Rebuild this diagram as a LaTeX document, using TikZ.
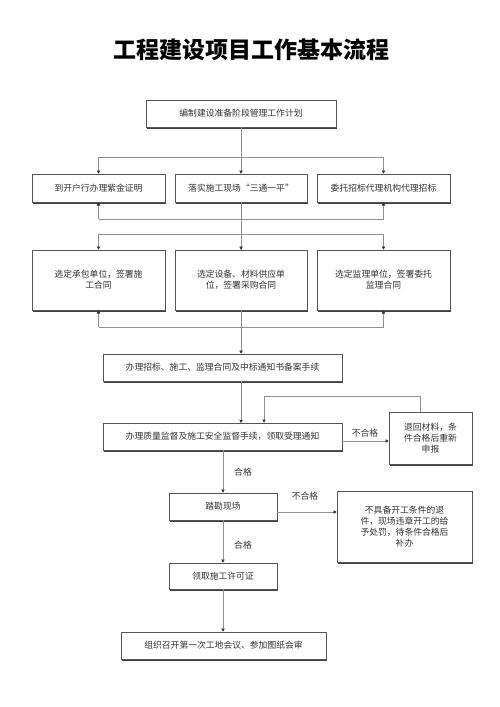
\documentclass[tikz,border=0pt]{standalone}
\usepackage{fontspec}
\setmainfont{Noto Sans CJK SC}
\usetikzlibrary{arrows.meta,shadows}
\definecolor{txt}{HTML}{333333}
\definecolor{ln}{HTML}{8F8F8F}
\definecolor{bd}{HTML}{555555}
\tikzset{
  box/.style={draw=bd,line width=0.6pt,fill=white,inner sep=0pt,align=center,
    text=txt,font=\fontsize{8.8}{11}\selectfont,
    general shadow={fill=black!75,shadow xshift=1.3pt,shadow yshift=-1.5pt}},
  conn/.style={draw=ln,line width=0.7pt},
  arr/.style={conn,-{Triangle[length=3.2pt,width=3.4pt,color=black!80]}},
  lbl/.style={text=txt,font=\fontsize{8.8}{11}\selectfont,inner sep=0pt}
}
\begin{document}
\begin{tikzpicture}[x=1pt,y=-1pt]
\useasboundingbox (0,0) rectangle (500,707);
\fill[white] (0,0) rectangle (500,707);
\node[text=black,font=\fontsize{23}{26}\selectfont\bfseries] (title) at (251,50) {工程建设项目工作基本流程};

\node[box,minimum width=190pt,minimum height=27pt] (top) at (241,113.5) {编制建设准备阶段管理工作计划};

\node[box,minimum width=133pt,minimum height=28pt] (r1a) at (98.5,188) {到开户行办理紫金证明};
\node[box,minimum width=132pt,minimum height=28pt] (r1b) at (241,188) {落实施工现场“三通一平”};
\node[box,minimum width=133pt,minimum height=28pt] (r1c) at (383.5,188) {委托招标代理机构代理招标};

\node[box,minimum width=133pt,minimum height=60pt] (r2a) at (98.5,280) {选定承包单位，签署施\\工合同};
\node[box,minimum width=132pt,minimum height=60pt] (r2b) at (241,280) {选定设备、材料供应单\\位，签署采购合同};
\node[box,minimum width=133pt,minimum height=60pt] (r2c) at (383.5,280) {选定监理单位，签署委托\\监理合同};

\node[box,minimum width=239pt,minimum height=27pt] (b4) at (222.5,367.5) {办理招标、施工、监理合同及中标通知书备案手续};
\node[box,minimum width=239pt,minimum height=27pt] (b5) at (222.5,436.5) {办理质量监督及施工安全监督手续，领取受理通知};
\node[box,minimum width=83pt,minimum height=52pt] (ret) at (430.5,438) {退回材料，条\\件合格后重新\\申报};
\node[box,minimum width=108pt,minimum height=27pt] (b6) at (223,506.5) {踏勘现场};
\node[box,minimum width=135pt,minimum height=71pt] (b7) at (404.5,526.5) {不具备开工条件的退\\件，现场违章开工的给\\予处罚，待条件合格后\\补办};
\node[box,minimum width=108pt,minimum height=26pt] (b8) at (223,576) {领取施工许可证};
\node[box,minimum width=205pt,minimum height=27pt] (b9) at (223.5,645.5) {组织召开第一次工地会议、参加图纸会审};

% junction coordinates
\coordinate (j1) at (241,157);
\coordinate (j2) at (241,219);
\coordinate (j3) at (241,234);
\coordinate (j4) at (241,327);
\coordinate (lp1) at (420,396);
\coordinate (lp2) at (264,396);

% first fan out
\draw[arr] (top.south) -- (r1b.north);
\draw[conn] (r1a.north |- j1) -- (r1c.north |- j1);
\draw[arr] (r1a.north |- j1) -- (r1a.north);
\draw[arr] (r1c.north |- j1) -- (r1c.north);
% first fan in
\draw[conn] (r1b.south) -- (r2b.north);
\draw[conn] (r1a.south |- j2) -- (r1c.south |- j2);
\draw[arr] (r1a.south |- j2) -- (r1a.south);
\draw[arr] (r1c.south |- j2) -- (r1c.south);
% second fan out
\draw[conn] (r1a.north |- j3) -- (r1c.north |- j3);
\draw[arr] (r1a.north |- j3) -- (r2a.north);
\draw[arr] (r1c.north |- j3) -- (r2c.north);
\draw[arr] (j3) -- (r2b.north);
% second fan in
\draw[conn] (r2a.south |- j4) -- (r2c.south |- j4);
\draw[arr] (r2a.south |- j4) -- (r2a.south);
\draw[arr] (r2c.south |- j4) -- (r2c.south);
\draw[arr] (r2b.south) -- (r2b.south |- b4.north);

% main flow
\draw[arr] (241,381) -- (241,423);
\draw[arr] (b5.east |- 0,441) -- (ret.west |- 0,441);
\node[lbl] (ng1) at (365,433) {不合格};
\draw[conn] (ret.north -| lp1) -- (lp1) -- (lp2);
\draw[arr] (lp2) -- (lp2 |- b5.north);

\draw[arr] (b6.north |- b5.south) -- (b6.north);
\node[lbl] (ok1) at (243,472) {合格};
\draw[arr] (b6.east |- 0,512) -- (b7.west |- 0,512);
\node[lbl] (ng2) at (305,496) {不合格};
\draw[arr] (b6.south) -- (b8.north);
\node[lbl] (ok2) at (243,545) {合格};
\draw[arr] (b8.south) -- (b8.south |- b9.north);
\end{tikzpicture}
\end{document}
